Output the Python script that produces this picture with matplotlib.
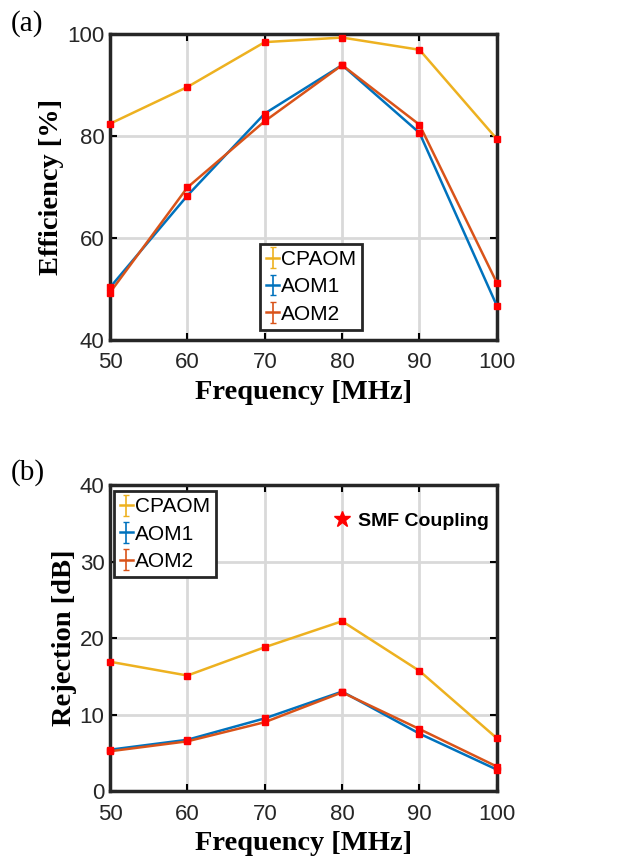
import matplotlib
matplotlib.use("Agg")
import matplotlib.pyplot as plt
import numpy as np

freq = [50, 60, 70, 80, 90, 100]
eff_cpaom = [82.4, 89.6, 98.4, 99.3, 96.9, 79.4]
eff_aom1 = [50.3, 68.3, 84.4, 93.9, 80.6, 46.7]
eff_aom2 = [49.3, 69.9, 82.9, 93.9, 82.2, 51.2]
rej_cpaom = [16.9, 15.1, 18.8, 22.2, 15.7, 6.9]
rej_aom1 = [5.4, 6.7, 9.5, 13.0, 7.5, 2.8]
rej_aom2 = [5.2, 6.5, 9.0, 12.9, 8.1, 3.2]
series_names = ["CPAOM", "AOM1", "AOM2"]
colors = ["#EDB120", "#0072BD", "#D95319"]

fig = plt.figure(figsize=(6.18, 8.6), dpi=100)
ax1 = fig.add_axes([0.178, 0.6047, 0.626, 0.3558])
ax2 = fig.add_axes([0.178, 0.0802, 0.626, 0.3558])

label_font = dict(family="Liberation Serif", weight="bold", size=20.5)

def style(ax, ylim, yticks, ylabel):
    ax.set_xlim(50, 100)
    ax.set_ylim(*ylim)
    ax.set_xticks(freq)
    ax.set_yticks(yticks)
    ax.grid(True, color="#d9d9d9", linewidth=2.0)
    ax.set_axisbelow(True)
    ax.tick_params(direction="in", length=5, width=1.5, top=True, right=True,
                   labelsize=16, labelcolor="#262626")
    ax.tick_params(axis="x", pad=9)
    ax.tick_params(axis="y", pad=4)
    for lab in ax.get_xticklabels() + ax.get_yticklabels():
        lab.set_family("Liberation Sans")
    for s in ax.spines.values():
        s.set_linewidth(2.5)
        s.set_color("#262626")
    ax.set_xlabel("Frequency [MHz]", fontdict=label_font, labelpad=5)
    ax.set_ylabel(ylabel, fontdict=label_font, labelpad=2)

def draw(ax, ys):
    handles = []
    for y, c, n in zip(ys, colors, series_names):
        h = ax.errorbar(freq, y, yerr=np.zeros(len(y)), color=c, linewidth=1.8,
                        capsize=2.5, elinewidth=1.2, label=n, zorder=3)
        handles.append(h)
    for y in ys:
        ax.plot(freq, y, linestyle="none", marker="s", markersize=5,
                color="red", clip_on=False, zorder=4)
    return handles

leg_kw = dict(prop=dict(family="Liberation Sans", size=15), frameon=True,
              fancybox=False, edgecolor="#262626", handlelength=0.6,
              handletextpad=0.1, borderpad=0.3, labelspacing=0.4,
              borderaxespad=0.0, framealpha=1)

h1 = draw(ax1, [eff_cpaom, eff_aom1, eff_aom2])
style(ax1, (40, 100), [40, 60, 80, 100], "Efficiency [%]")
leg1 = ax1.legend(handles=h1, loc="lower left", bbox_to_anchor=(0.388, 0.033), **leg_kw)
leg1.get_frame().set_linewidth(2.0)

h2 = draw(ax2, [rej_cpaom, rej_aom1, rej_aom2])
style(ax2, (0, 40), [0, 10, 20, 30, 40], "Rejection [dB]")
leg2 = ax2.legend(handles=h2, loc="upper left", bbox_to_anchor=(0.01, 0.98), **leg_kw)
leg2.get_frame().set_linewidth(2.0)

ax2.plot([80], [35.5], marker="*", color="red", markersize=12, linestyle="none")
ax2.text(82.0, 35.2, "SMF Coupling", fontdict=dict(family="Liberation Sans",
         weight="bold", size=14), va="center", ha="left", color="black")

fig.text(0.018, 0.973, "(a)", family="Liberation Serif", size=21, va="center", ha="left")
fig.text(0.018, 0.45, "(b)", family="Liberation Serif", size=21, va="center", ha="left")

fig.savefig("out.png", dpi=100)
